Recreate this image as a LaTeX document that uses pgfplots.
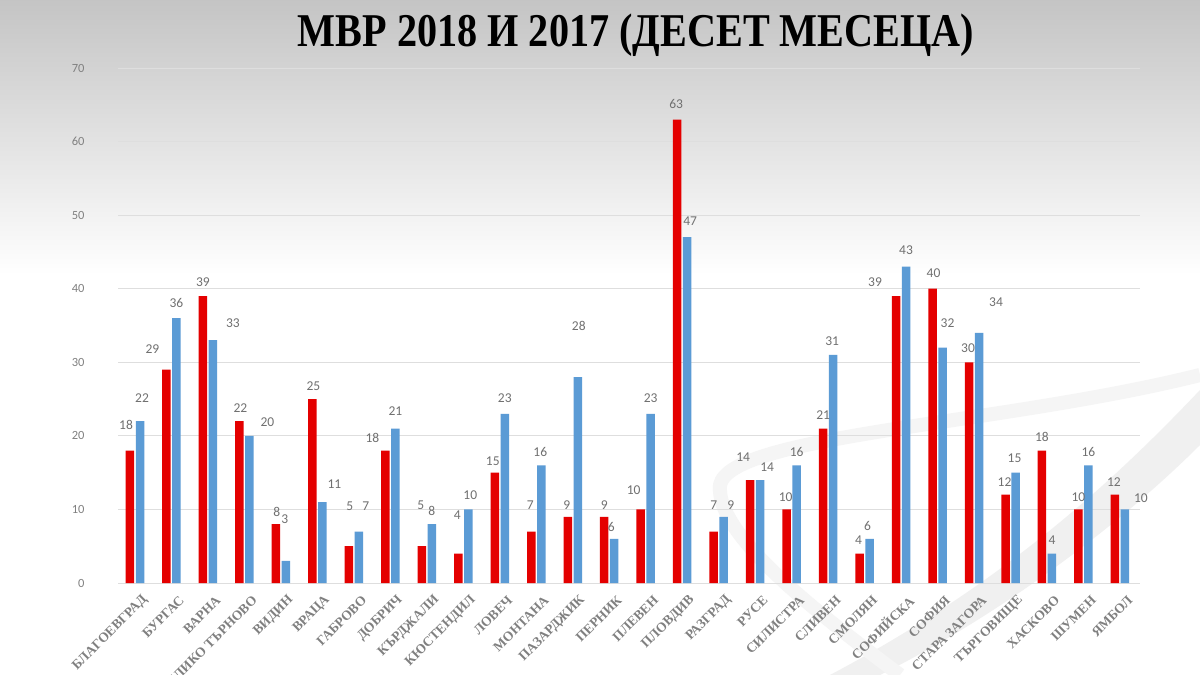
\documentclass[border=0pt]{standalone}
\usepackage{pgfplots}
\pgfplotsset{compat=1.18}
\usepackage{fontspec}
\setmainfont{Liberation Serif}
\newfontfamily\numfont{Carlito}
\definecolor{barred}{RGB}{228,0,0}
\definecolor{barblue}{RGB}{91,155,213}
\definecolor{txtgray}{RGB}{112,112,112}
\definecolor{lblgray}{RGB}{128,128,128}
\definecolor{gridgray}{RGB}{222,222,222}
\pgfplotstableread{
x y dx dy
0 18 -4 26
1 29 -14 21
2 39 0 14
3 22 1 13
4 8 1 12
5 25 1 13
6 5 1 40
7 18 -13 13
8 5 -1 41
9 4 -1 38
10 15 -2 11
11 7 -1 26
12 9 -1 12
13 9 0 12
14 10 -7 19
15 63 -1 16
16 7 0 26
17 14 -7 23
18 10 -1 12
19 21 0 13
20 4 -1 13
21 39 -21 14
22 40 1 16
23 30 -1 14
24 12 -1 13
25 18 0 14
26 10 0 12
27 12 -1 13
}\redtab
\pgfplotstableread{
x y dx dy
0 22 2 23
1 36 0 15
2 33 20 17
3 20 18 14
4 3 -1 42
5 11 12 18
6 7 7 25
7 21 0 17
8 8 0 13
9 10 2 14
10 23 0 16
11 16 -1 13
12 28 1 51
13 6 -3 12
14 23 0 16
15 47 3 16
16 9 7 12
17 14 7 13
18 16 0 13
19 31 -1 14
20 6 -2 13
21 43 0 16
22 32 5 24
23 34 17 31
24 15 -1 14
25 4 0 13
26 16 0 13
27 10 16 11
}\bluetab
\begin{document}
\begin{tikzpicture}[x=1pt,y=1pt]
\useasboundingbox (0,0) rectangle (1200,675);
\clip (0,0) rectangle (1200,675);
\fill[white] (0,0) rectangle (1200,675);
\shade[top color=black!23, bottom color=white] (0,400) rectangle (1200,675);
\fill[black!6] (880,0) .. controls (1000,60) and (1120,150) .. (1200,230) -- (1200,285) .. controls (1110,190) and (1000,90) .. (830,0) -- cycle;
\draw[black!4, line width=14pt] (1200,300) .. controls (1000,250) and (730,240) .. (720,190) .. controls (715,140) and (820,60) .. (900,0);
\node at (636,640) {\scalebox{0.855}[1]{\fontsize{47}{47}\selectfont\bfseries МВР 2018 И 2017 (ДЕСЕТ МЕСЕЦА)}};
\begin{axis}[
  at={(118pt,92pt)}, anchor=south west,
  scale only axis, width=1022pt, height=515pt,
  xmin=-0.466, xmax=27.55, ymin=0, ymax=70,
  ybar=1.5pt, bar width=8.5pt,
  axis line style={draw=none},
  major tick length=0pt,
  ymajorgrids, grid style={gridgray, line width=0.8pt},
  ytick={0,10,...,70},
  /pgf/number format/assume math mode=true,
  yticklabel style={font=\numfont\fontsize{12.5}{12.5}\selectfont, text=lblgray, xshift=-30pt},
  xtick={0,...,27},
  xticklabels={БЛАГОЕВГРАД,БУРГАС,ВАРНА,ВЕЛИКО ТЪРНОВО,ВИДИН,ВРАЦА,ГАБРОВО,ДОБРИЧ,КЪРДЖАЛИ,КЮСТЕНДИЛ,ЛОВЕЧ,МОНТАНА,ПАЗАРДЖИК,ПЕРНИК,ПЛЕВЕН,ПЛОВДИВ,РАЗГРАД,РУСЕ,СИЛИСТРА,СЛИВЕН,СМОЛЯН,СОФИЙСКА,СОФИЯ,СТАРА ЗАГОРА,ТЪРГОВИЩЕ,ХАСКОВО,ШУМЕН,ЯМБОЛ},
  xticklabel style={rotate=45, anchor=east, font=\bfseries\fontsize{13.5}{13.5}\selectfont, text=lblgray, xshift=0pt, yshift=-18pt},
  nodes near coords,
  visualization depends on={\thisrow{dx}\as\dx},
  visualization depends on={\thisrow{dy}\as\dy},
  every node near coord/.append style={font=\numfont\fontsize{13.5}{13.5}\selectfont, text=txtgray, anchor=center, xshift=\dx pt, yshift=\dy pt},
  clip=false,
]
\addplot[fill=barred, draw=none] table[x=x, y=y] {\redtab};
\addplot[fill=barblue, draw=none] table[x=x, y=y] {\bluetab};
\end{axis}
\end{tikzpicture}
\end{document}
